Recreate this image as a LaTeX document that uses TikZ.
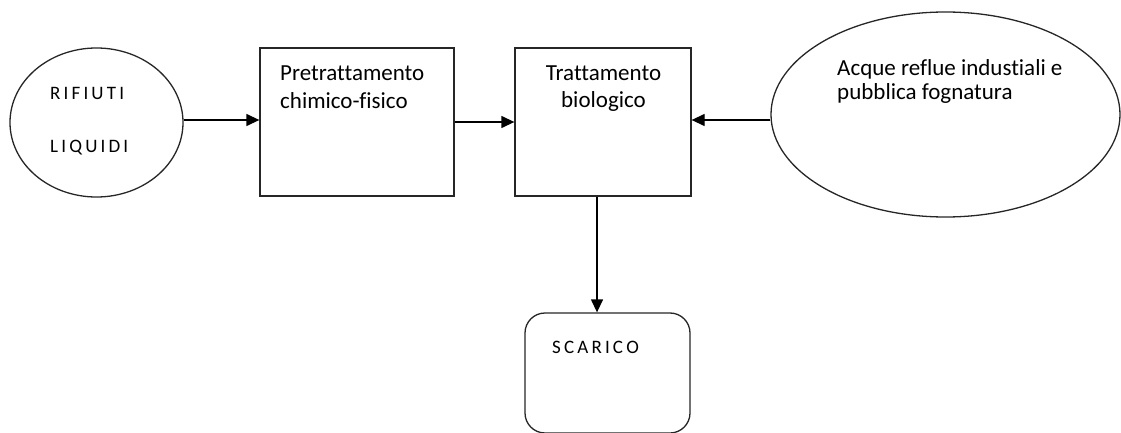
\documentclass[tikz,border=0pt]{standalone}
\usepackage{fontspec}
\setmainfont{Carlito}[Ligatures=NoCommon]
\usetikzlibrary{shapes.geometric,arrows.meta}
\begin{document}
\begin{tikzpicture}[x=1pt,y=-1pt,
  shapeline/.style={draw=black!85,line width=1.3pt},
  conn/.style={draw=black,line width=1.3pt,-{Triangle[length=13pt,width=12pt]}},
  lbl/.style={font=\fontsize{23}{27}\selectfont,inner sep=0pt,anchor=base west},
  caps/.style={lbl,font=\fontsize{19}{27}\selectfont},
  every node/.style={inner sep=0pt}]
\useasboundingbox (0,0) rectangle (1121,433);
% shapes
\node[shapeline,ellipse,minimum width=173pt,minimum height=149pt] (rif) at (96.5,122.5) {};
\node[shapeline,rectangle,minimum width=194pt,minimum height=148pt] (pre) at (357,122) {};
\node[shapeline,rectangle,minimum width=176pt,minimum height=148pt] (bio) at (603,122) {};
\node[shapeline,ellipse,minimum width=349pt,minimum height=205pt] (acq) at (945.5,114.5) {};
\node[shapeline,rectangle,rounded corners=20pt,minimum width=165pt,minimum height=120pt] (sca) at (607.5,373) {};
% labels
\node[caps] (t1) at (50,100) {R\,I\,F\,I\,U\,T\,I};
\node[caps] (t2) at (50,153) {L\,I\,Q\,U\,I\,D\,I};
\node[lbl] (t3a) at (280,81) {Pretrattamento};
\node[lbl] (t3b) at (280,109) {chimico-fisico};
\node[lbl,anchor=base] (t4a) at (603.5,81) {Trattamento};
\node[lbl,anchor=base] (t4b) at (603.5,108) {biologico};
\node[lbl] (t5a) at (837,76) {Acque reflue industiali e};
\node[lbl] (t5b) at (837,100) {pubblica fognatura};
\node[caps] (t6) at (552,353) {S\,C\,A\,R\,I\,C\,O};
% connectors
\draw[conn] (rif.east |- 0,120) -- (pre.west |- 0,120);
\draw[conn] (pre.east |- 0,122) -- (bio.west |- 0,122);
\draw[conn] (acq.west |- 0,120) -- (bio.east |- 0,120);
\draw[conn] (bio.south -| 597,0) -- (sca.north -| 597,0);
\end{tikzpicture}
\end{document}
